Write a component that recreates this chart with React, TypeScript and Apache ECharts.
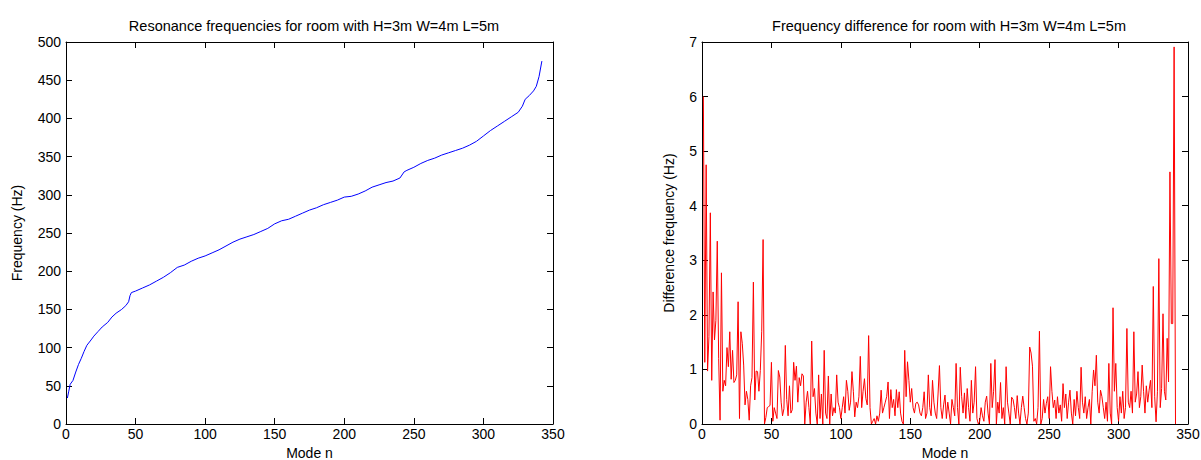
import React, { useEffect, useRef } from 'react';
import * as echarts from 'echarts';

const FONT = '"Liberation Sans", Arial, Helvetica, sans-serif';

const leftTitle = 'Resonance frequencies for room with H=3m W=4m L=5m';
const rightTitle = 'Frequency difference for room with H=3m W=4m L=5m';

// Left chart: mode number and resonance frequency (Hz)
const leftModes = [
  1, 2, 3, 5, 7, 9, 11, 13, 15, 18, 20, 23, 26, 30, 33, 36, 40, 43, 45, 46, 47, 50,
  55, 60, 65, 70, 75, 80, 85, 90, 95, 100, 105, 110, 115, 120, 125, 130, 135, 140,
  145, 150, 155, 160, 165, 170, 175, 180, 185, 190, 195, 200, 205, 210, 215, 220,
  225, 230, 235, 240, 243, 245, 250, 255, 260, 265, 270, 275, 280, 285, 290, 295,
  300, 305, 310, 315, 320, 325, 328, 330, 333, 336, 338, 340, 342,
];
const leftFreqs = [
  34, 43, 52, 57, 68, 78, 86, 95, 103, 110, 115, 121, 127, 133, 140, 145, 150, 155, 160, 168, 172, 174,
  178, 182, 187, 192, 198, 205, 208, 213, 217, 220, 224, 228, 233, 238, 242, 245, 248, 252,
  256, 262, 266, 268, 272, 276, 280, 283, 287, 290, 293, 297, 298, 301, 305, 310,
  313, 316, 318, 322, 330, 332, 336, 341, 345, 348, 352, 355, 358, 361, 365, 370,
  377, 384, 390, 396, 402, 408, 416, 425, 430, 436, 442, 455, 475,
];

// Right chart: frequency difference (Hz) for modes 1..n
const diffValues = [
  6.00, 1.13, 4.75, 0.97, 1.60, 3.87, 0.80, 2.42, 1.54, 1.90,
  3.35, 1.20, 0.07, 2.77, 0.60, 0.80, 0.70, 1.40, 1.05, 1.69,
  0.82, 1.35, 0.76, 0.80, 0.90, 2.24, 0.10, 1.69, 1.48, 1.08,
  0.35, 0.60, 0.45, 0.07, 0.70, 0.85, 2.60, 0.44, 0.97, 0.96,
  0.60, 0.98, 1.70, 3.38, 0.00, 0.12, 0.30, 0.32, 0.34, 1.13,
  0.05, 0.30, 0.20, 0.10, 0.98, 0.86, 0.40, 0.15, 0.28, 1.44,
  0.45, 0.15, 0.70, 0.20, 0.26, 1.13, 0.80, 1.06, 0.40, 0.85,
  0.70, 0.92, 0.88, 0.00, 0.40, 0.60, 0.30, 0.00, 1.52, 0.50,
  0.65, 0.20, 0.00, 0.90, 0.10, 0.55, 0.00, 1.35, 0.20, 0.10,
  0.88, 0.00, 0.55, 0.15, 0.30, 0.20, 0.90, 0.40, 0.30, 0.10,
  0.30, 0.50, 0.20, 0.80, 0.60, 0.25, 0.40, 0.96, 0.60, 0.13,
  0.40, 0.30, 0.50, 1.24, 0.30, 0.60, 0.83, 0.47, 0.35, 1.62,
  0.30, 0.00, 0.05, 0.10, 0.00, 0.15, 0.05, 0.20, 0.62, 0.20,
  0.30, 0.40, 0.50, 0.77, 0.10, 0.63, 0.30, 0.45, 0.15, 0.63,
  0.30, 0.59, 0.20, 0.05, 0.00, 1.35, 0.50, 1.14, 0.80, 0.40,
  0.65, 0.30, 0.20, 0.38, 0.40, 0.35, 0.20, 0.15, 0.30, 0.59,
  0.10, 0.20, 0.90, 0.30, 0.15, 0.80, 0.40, 0.20, 0.10, 0.55,
  1.07, 0.30, 0.10, 0.35, 0.53, 0.10, 0.40, 0.20, 0.00, 0.45,
  0.30, 0.15, 1.11, 0.30, 0.00, 1.04, 0.50, 0.20, 0.57, 0.10,
  0.65, 0.30, 0.05, 0.80, 0.20, 0.40, 1.05, 0.10, 0.00, 0.05,
  0.30, 0.15, 0.05, 0.40, 0.51, 0.20, 0.00, 1.11, 0.30, 0.60,
  1.18, 0.00, 0.40, 0.20, 0.76, 0.10, 0.30, 0.00, 1.05, 0.40,
  0.20, 0.00, 0.49, 0.45, 0.30, 0.10, 0.52, 0.20, 0.00, 0.30,
  0.51, 0.30, 0.10, 0.00, 0.20, 1.41, 1.30, 1.06, 0.05, 0.10,
  0.00, 0.30, 1.70, 0.00, 0.10, 0.45, 0.20, 0.38, 0.50, 0.10,
  1.05, 0.60, 0.30, 0.44, 0.10, 0.50, 0.20, 0.35, 0.05, 0.74,
  0.30, 0.55, 0.10, 0.40, 0.62, 0.20, 0.00, 0.45, 0.15, 0.60,
  0.30, 0.10, 1.04, 0.40, 0.20, 0.50, 0.10, 0.30, 0.45, 0.00,
  0.60, 0.99, 0.70, 1.26, 0.40, 0.20, 0.62, 0.50, 0.30, 0.10,
  0.40, 0.05, 1.11, 0.20, 0.00, 2.13, 0.60, 1.11, 0.30, 0.05,
  0.50, 0.20, 0.60, 0.10, 0.30, 1.75, 0.40, 0.30, 0.60, 0.20,
  1.69, 0.40, 0.55, 0.96, 0.30, 0.50, 1.08, 0.60, 0.20, 0.70,
  0.40, 0.62, 0.80, 0.30, 2.52, 0.50, 0.04, 0.60, 3.03, 0.30,
  0.65, 2.02, 0.60, 0.44, 1.57, 0.77, 4.62, 1.84, 1.84, 6.91,
  0.00,
];

const xMin = 0;
const xMax = 350;
const xStep = 50;
const leftYMax = 500;
const leftYStep = 50;
const rightYMax = 7;
const rightYStep = 1;

export default function App() {
  const ref = useRef<HTMLDivElement>(null);

  useEffect(() => {
    if (!ref.current) return;
    const chart = echarts.init(ref.current, null, { renderer: 'svg' });

    const lineStyle = { color: '#000', width: 1 };
    const tickStyle = { inside: true, length: 6, lineStyle: { color: '#000', width: 1 } };
    const labelStyle = { color: '#000', fontSize: 14, fontFamily: FONT };
    const nameStyle = { color: '#000', fontSize: 14, fontFamily: FONT };

    const mkX = (gridIndex: number, position: 'bottom' | 'top', withLabels: boolean) => ({
      type: 'value',
      gridIndex,
      position,
      min: xMin,
      max: xMax,
      interval: xStep,
      axisLine: { show: true, onZero: false, lineStyle },
      axisTick: tickStyle,
      axisLabel: { show: withLabels, margin: 3, ...labelStyle },
      splitLine: { show: false },
      name: withLabels ? 'Mode n' : '',
      nameLocation: 'middle',
      nameGap: 21,
      nameTextStyle: nameStyle,
    });

    const mkY = (
      gridIndex: number,
      position: 'left' | 'right',
      withLabels: boolean,
      max: number,
      step: number,
      name: string,
      nameGap: number,
    ) => ({
      type: 'value',
      gridIndex,
      position,
      min: 0,
      max,
      interval: step,
      axisLine: { show: true, onZero: false, lineStyle },
      axisTick: tickStyle,
      axisLabel: { show: withLabels, margin: 5, ...labelStyle },
      splitLine: { show: false },
      name: withLabels ? name : '',
      nameLocation: 'middle',
      nameGap,
      nameTextStyle: nameStyle,
    });

    const titleStyle = { color: '#000', fontSize: 14.5, fontWeight: 'normal', fontFamily: FONT };

    chart.setOption({
      animation: false,
      backgroundColor: '#fff',
      title: [
        { text: leftTitle, left: 309, top: 13, textAlign: 'center', textStyle: titleStyle },
        { text: rightTitle, left: 944, top: 13, textAlign: 'center', textStyle: titleStyle },
      ],
      grid: [
        { left: 66, top: 42, width: 487, height: 382, containLabel: false, outerBoundsMode: 'none' },
        { left: 702, top: 42, width: 486, height: 382, containLabel: false, outerBoundsMode: 'none' },
      ],
      xAxis: [mkX(0, 'bottom', true), mkX(0, 'top', false), mkX(1, 'bottom', true), mkX(1, 'top', false)],
      yAxis: [
        mkY(0, 'left', true, leftYMax, leftYStep, 'Frequency (Hz)', 42),
        mkY(0, 'right', false, leftYMax, leftYStep, '', 0),
        mkY(1, 'left', true, rightYMax, rightYStep, 'Difference frequency (Hz)', 26),
        mkY(1, 'right', false, rightYMax, rightYStep, '', 0),
      ],
      series: [
        {
          type: 'line',
          xAxisIndex: 0,
          yAxisIndex: 0,
          data: leftModes.map((n, i) => [n, leftFreqs[i]]),
          showSymbol: false,
          symbol: 'none',
          lineStyle: { color: '#0000ff', width: 1 },
          silent: true,
        },
        {
          type: 'line',
          xAxisIndex: 2,
          yAxisIndex: 2,
          data: diffValues.map((v, i) => [i + 1, v]),
          showSymbol: false,
          symbol: 'none',
          lineStyle: { color: '#ff0000', width: 1 },
          silent: true,
        },
      ],
    });

    return () => chart.dispose();
  }, []);

  return (
    <div
      ref={ref}
      style={{ position: 'fixed', left: 0, top: 0, width: 1201, height: 460, background: '#fff' }}
    />
  );
}
